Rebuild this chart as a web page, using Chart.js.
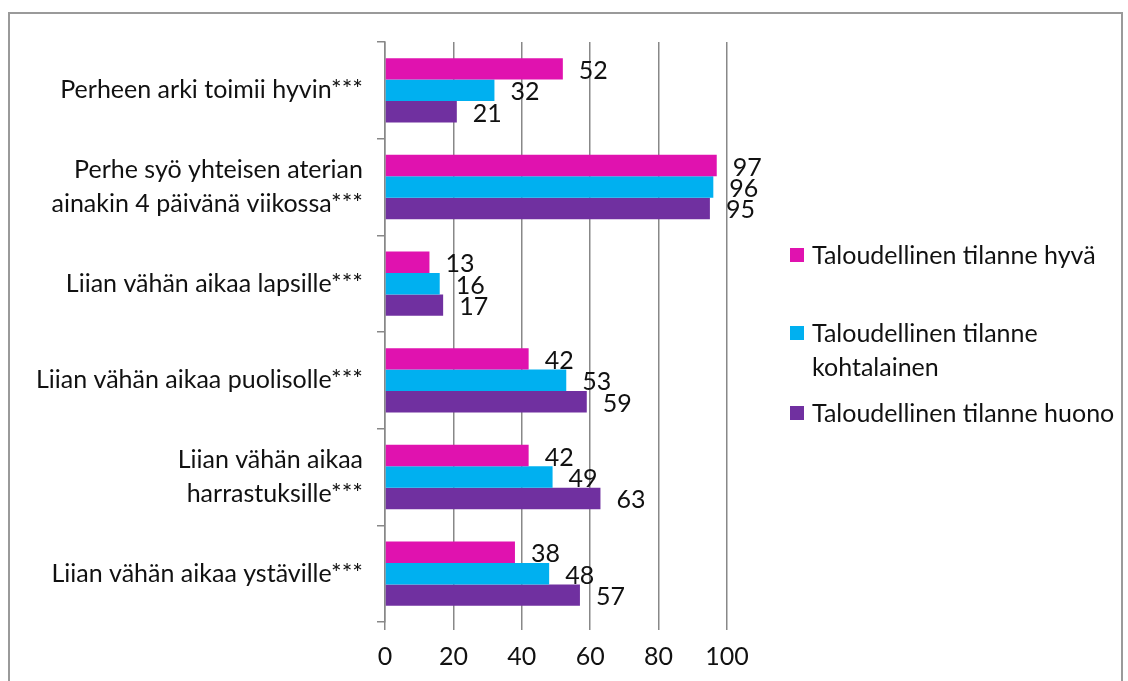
<!DOCTYPE html>
<html>
<head>
<meta charset="utf-8">
<script src="https://cdn.jsdelivr.net/npm/chart.js@4/dist/chart.umd.min.js"></script>
<style>
  html, body { margin: 0; padding: 0; background: #fff; }
  #wrap { position: relative; width: 1128px; height: 681px; overflow: hidden; }
  #frame { position: absolute; left: 8px; top: 12px; width: 1111px; height: 700px; border: 2px solid #9a9a9a; }
  canvas { position: absolute; left: 0; top: 0; }
</style>
</head>
<body>
<div id="wrap">
  <div id="frame"></div>
  <canvas id="chart" width="1128" height="681"></canvas>
</div>
<script>
// categories (multi-line labels as arrays)
const categories = [
  'Perheen arki toimii hyvin***',
  ['Perhe syö yhteisen aterian', 'ainakin 4 päivänä viikossa***'],
  'Liian vähän aikaa lapsille***',
  'Liian vähän aikaa puolisolle***',
  ['Liian vähän aikaa', 'harrastuksille***'],
  'Liian vähän aikaa ystäville***'
];

const seriesNames = [
  'Taloudellinen tilanne hyvä',
  'Taloudellinen tilanne kohtalainen',
  'Taloudellinen tilanne huono'
];
const legendLines = [
  ['Taloudellinen tilanne hyvä'],
  ['Taloudellinen tilanne', 'kohtalainen'],
  ['Taloudellinen tilanne huono']
];

const good = [52, 97, 13, 42, 42, 38];
const moderate = [32, 96, 16, 53, 49, 48];
const poor = [21, 95, 17, 59, 63, 57];

const xTicks = [0, 20, 40, 60, 80, 100];

const colors = ['#E012AF', '#00B0F0', '#7030A0'];
const FONT = 'Lato';
const SIZE = 25;

// value labels to the right of every bar
const valueLabels = {
  id: 'valueLabels',
  afterDatasetsDraw(chart) {
    const ctx = chart.ctx;
    ctx.save();
    ctx.font = SIZE + 'px ' + FONT;
    ctx.fillStyle = '#111';
    ctx.textAlign = 'left';
    ctx.textBaseline = 'middle';
    chart.data.datasets.forEach((ds, i) => {
      chart.getDatasetMeta(i).data.forEach((bar, j) => {
        ctx.fillText(ds.data[j], bar.x + 16, bar.y + 2);
      });
    });
    ctx.restore();
  }
};

// legend on the right, drawn like the original
const sideLegend = {
  id: 'sideLegend',
  afterDraw(chart) {
    const ctx = chart.ctx;
    const ys = [255, 333, 413];
    ctx.save();
    ctx.font = SIZE + 'px ' + FONT;
    ctx.textBaseline = 'middle';
    ctx.textAlign = 'left';
    chart.data.datasets.forEach((ds, i) => {
      const y = ys[i];
      ctx.fillStyle = ds.backgroundColor;
      ctx.fillRect(790, y - 7, 14, 14);
      ctx.fillStyle = '#111';
      legendLines[i].forEach((line, k) => {
        ctx.fillText(line, 812, y + 1 + k * 34);
      });
    });
    ctx.restore();
  }
};

new Chart(document.getElementById('chart'), {
  type: 'bar',
  data: {
    labels: categories,
    datasets: [
      { label: seriesNames[0], data: good, backgroundColor: colors[0] },
      { label: seriesNames[1], data: moderate, backgroundColor: colors[1] },
      { label: seriesNames[2], data: poor, backgroundColor: colors[2] }
    ]
  },
  options: {
    indexAxis: 'y',
    responsive: false,
    animation: false,
    categoryPercentage: 0.665,
    barPercentage: 1,
    layout: { padding: { top: 42, right: 401, bottom: 0, left: 0 } },
    plugins: {
      legend: { display: false },
      tooltip: { enabled: false }
    },
    scales: {
      x: {
        min: 0,
        max: 100,
        afterBuildTicks(scale) {
          scale.ticks = xTicks.map(v => ({ value: v }));
        },
        afterFit(scale) { scale.height = 59; },
        border: { display: false },
        grid: { color: '#888', lineWidth: 1.5, tickLength: 8 },
        ticks: { color: '#111', font: { family: FONT, size: SIZE }, padding: 12, maxRotation: 0 }
      },
      y: {
        afterFit(scale) { scale.width = 385; },
        border: { display: true, color: '#888', width: 1.5 },
        grid: { drawOnChartArea: false, color: '#888', lineWidth: 1.5, tickLength: 8 },
        ticks: { color: '#111', font: { family: FONT, size: SIZE, lineHeight: 1.38 }, padding: 14 }
      }
    }
  },
  plugins: [valueLabels, sideLegend]
});
</script>
</body>
</html>
